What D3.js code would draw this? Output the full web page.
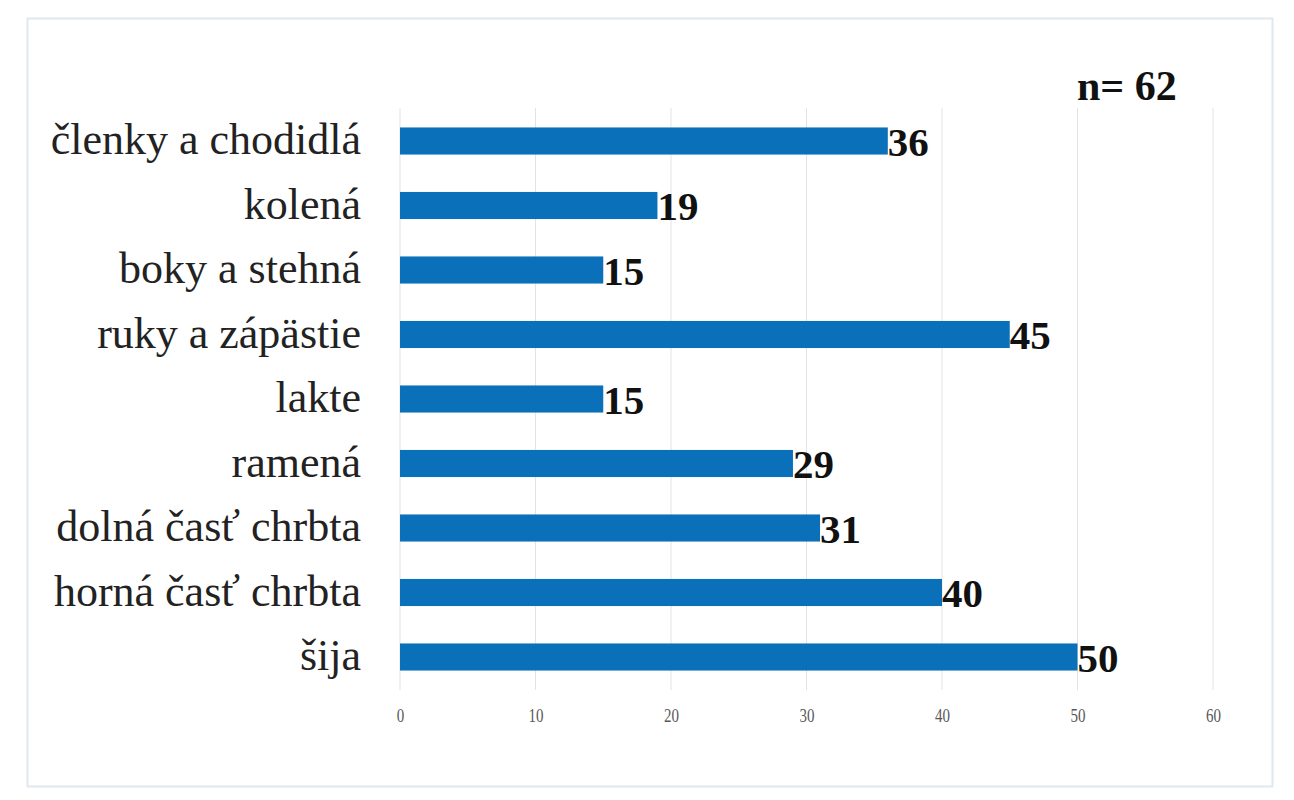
<!DOCTYPE html>
<html>
<head>
<meta charset="utf-8">
<script src="https://cdn.jsdelivr.net/npm/d3@7"></script>
<style>
  body { margin: 0; background: #fff; }
  svg { display: block; }
</style>
</head>
<body>
<div id="chart"></div>
<script>
// categories top to bottom, as in the picture
const categories = ['členky a chodidlá', 'kolená', 'boky a stehná', 'ruky a zápästie',
  'lakte', 'ramená', 'dolná časť chrbta', 'horná časť chrbta', 'šija']
const values = [36, 19, 15, 45, 15, 29, 31, 40, 50]
const xTicks = [0, 10, 20, 30, 40, 50, 60]
const sampleNote = 'n= 62'

const width = 1294
const height = 800

const svg = d3.select('#chart').append('svg')
  .attr('width', width)
  .attr('height', height)

// outer frame
svg.append('rect')
  .attr('x', 27.5).attr('y', 18.5)
  .attr('width', 1245).attr('height', 768)
  .attr('fill', '#fff')
  .attr('stroke', '#dfe7ef')
  .attr('stroke-width', 2)

const x = d3.scaleLinear()
  .domain([0, 60])
  .range([400, 1213])

const y = d3.scaleBand()
  .domain(categories)
  .range([108.75, 689.25])
  .paddingInner(0.58)
  .paddingOuter(0.29)

// vertical gridlines
svg.append('g')
  .selectAll('line')
  .data(xTicks)
  .enter().append('line')
    .attr('x1', d => x(d)).attr('x2', d => x(d))
    .attr('y1', 108).attr('y2', 690)
    .attr('stroke', '#e3e3e3')
    .attr('stroke-width', 1)

// x axis labels only, no domain line
const xAxis = svg.append('g')
  .attr('transform', 'translate(0,' + 706 + ')')
  .call(d3.axisBottom(x).tickValues(xTicks).tickSize(0).tickPadding(0))
xAxis.select('.domain').remove()
xAxis.selectAll('text')
  .attr('font-family', '"Liberation Serif", "Times New Roman", serif')
  .attr('font-size', 15)
  .attr('fill', '#595959')
  .attr('transform', 'scale(1,1.2)')
  .attr('dy', '0.9em')

// bars
svg.selectAll('.bar')
  .data(values)
  .enter().append('rect')
    .attr('class', 'bar')
    .attr('x', x(0))
    .attr('y', (d, i) => y(categories[i]))
    .attr('width', d => x(d) - x(0))
    .attr('height', y.bandwidth())
    .attr('fill', '#0a70b9')

// category labels
svg.selectAll('.cat')
  .data(categories)
  .enter().append('text')
    .attr('class', 'cat')
    .attr('x', 361)
    .attr('y', d => y(d) + y.bandwidth() / 2)
    .attr('dy', '0.3em')
    .attr('text-anchor', 'end')
    .attr('font-family', '"Liberation Serif", "Times New Roman", serif')
    .attr('font-size', 44)
    .attr('fill', '#222')
    .text(d => d)

// value labels
svg.selectAll('.val')
  .data(values)
  .enter().append('text')
    .attr('class', 'val')
    .attr('x', d => x(d))
    .attr('y', (d, i) => y(categories[i]) + y.bandwidth() / 2)
    .attr('dy', '0.36em')
    .attr('font-family', '"Liberation Serif", "Times New Roman", serif')
    .attr('font-weight', 'bold')
    .attr('font-size', 41)
    .attr('fill', '#111')
    .text(d => d)

svg.append('text')
  .attr('x', 1077)
  .attr('y', 100)
  .attr('font-family', '"Liberation Serif", "Times New Roman", serif')
  .attr('font-weight', 'bold')
  .attr('font-size', 42)
  .attr('fill', '#111')
  .text(sampleNote)
</script>
</body>
</html>
